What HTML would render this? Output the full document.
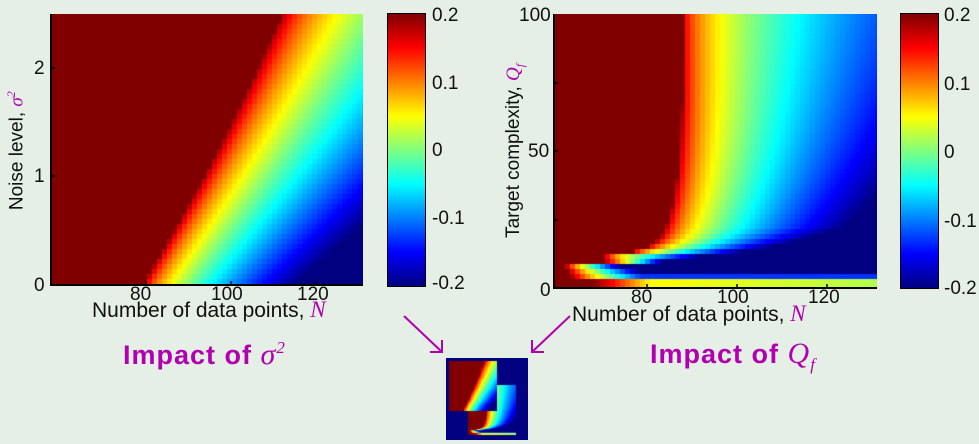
<!DOCTYPE html>
<html><head><meta charset="utf-8"><style>
html,body{margin:0;padding:0;background:#e5efe5;width:979px;height:444px;overflow:hidden;position:relative;font-family:"Liberation Sans",sans-serif;}
canvas{position:absolute;}
.t{position:absolute;font-size:19px;color:#111;line-height:1;white-space:nowrap;}
.m{color:#b000b0;font-style:italic;font-family:"Liberation Serif",serif;}
.ttl{position:absolute;font-size:27px;font-weight:bold;letter-spacing:1px;color:#b000b0;white-space:nowrap;line-height:1;}
</style></head><body>
<canvas id="c1" width="311" height="271" style="left:52px;top:14px"></canvas>
<canvas id="c2" width="322" height="275" style="left:555px;top:14px"></canvas>
<canvas id="cb1" width="37" height="272" style="left:388px;top:14px"></canvas>
<canvas id="cb2" width="37" height="274" style="left:901px;top:14px"></canvas>
<canvas id="th" width="82" height="82" style="left:446px;top:358px"></canvas>
<svg width="979" height="444" style="position:absolute;left:0;top:0">
<line x1="51" y1="14" x2="51" y2="286" stroke="#000" stroke-width="2"/>
<line x1="50" y1="285" x2="363" y2="285" stroke="#000" stroke-width="2"/>
<line x1="554" y1="14" x2="554" y2="289" stroke="#000" stroke-width="2"/>
<line x1="553" y1="288" x2="877" y2="288" stroke="#000" stroke-width="2"/>
<g stroke="#000" stroke-width="1.5">
<line x1="51" y1="68" x2="55" y2="68"/><line x1="51" y1="176" x2="55" y2="176"/>
<line x1="146" y1="285" x2="146" y2="281"/><line x1="231" y1="285" x2="231" y2="281"/><line x1="316" y1="285" x2="316" y2="281"/>
<line x1="554" y1="151" x2="558" y2="151"/><line x1="554" y1="83" x2="558" y2="83"/><line x1="554" y1="220" x2="558" y2="220"/>
<line x1="647" y1="288" x2="647" y2="284"/><line x1="737" y1="288" x2="737" y2="284"/><line x1="827" y1="288" x2="827" y2="284"/>
</g>
<rect x="387.5" y="13.5" width="38" height="273" fill="none" stroke="#000"/>
<rect x="900.5" y="13.5" width="38" height="275" fill="none" stroke="#000"/>
<g stroke="#b000b0" stroke-width="2" fill="none">
<line x1="404" y1="316" x2="442" y2="352"/><polyline points="430,352 442,352 442,340"/>
<line x1="570" y1="316" x2="532" y2="352"/><polyline points="532,340 532,352 544,352"/>
</g>
</svg>
<div class="t" style="left:34px;top:59px">2</div>
<div class="t" style="left:34px;top:167px">1</div>
<div class="t" style="left:34px;top:276px">0</div>
<div class="t" style="left:130px;top:285px">80</div>
<div class="t" style="left:211px;top:285px">100</div>
<div class="t" style="left:297px;top:285px">120</div>
<div class="t" style="left:92px;top:298px;font-size:21px">Number of data points, <span class="m" style="font-size:23px">N</span></div>
<div class="t" style="left:-64px;top:140px;transform:rotate(-90deg);transform-origin:center;width:160px;text-align:center">Noise level, <span class="m">σ<sup style="font-size:12px">2</sup></span></div>
<div class="t" style="left:519px;top:6px">100</div>
<div class="t" style="left:528px;top:142px">50</div>
<div class="t" style="left:540px;top:281px">0</div>
<div class="t" style="left:631px;top:288px">80</div>
<div class="t" style="left:717px;top:288px">100</div>
<div class="t" style="left:808px;top:288px">120</div>
<div class="t" style="left:572px;top:302px;font-size:21px">Number of data points, <span class="m" style="font-size:23px">N</span></div>
<div class="t" style="left:420px;top:140px;transform:rotate(-90deg);transform-origin:center;width:190px;text-align:center">Target complexity, <span class="m">Q<sub style="font-size:12px">f</sub></span></div>
<div class="t" style="left:432px;top:6px">0.2</div><div class="t" style="left:432px;top:74px">0.1</div><div class="t" style="left:432px;top:141px">0</div><div class="t" style="left:432px;top:209px">-0.1</div><div class="t" style="left:432px;top:274px">-0.2</div>
<div class="t" style="left:944px;top:6px">0.2</div><div class="t" style="left:944px;top:75px">0.1</div><div class="t" style="left:944px;top:143px">0</div><div class="t" style="left:944px;top:212px">-0.1</div><div class="t" style="left:944px;top:279px">-0.2</div>
<div class="ttl" style="left:123px;top:339px">Impact of <span class="m" style="font-size:30px;font-weight:normal">σ<sup style="font-size:17px">2</sup></span></div>
<div class="ttl" style="left:650px;top:339px">Impact of <span class="m" style="font-size:30px;font-weight:normal">Q<sub style="font-size:17px">f</sub></span></div>
<script>
function jet(v){var t=(v+0.2)/0.4;t=Math.max(0,Math.min(1,t));
function c(x){return Math.max(0,Math.min(1,1.5-Math.abs(x)));}
return [Math.round(255*c(4*t-3)),Math.round(255*c(4*t-2)),Math.round(255*c(4*t-1))];}
function fill(id,f,cell){var cv=document.getElementById(id),g=cv.getContext('2d'),W=cv.width,H=cv.height;
for(var y=0;y<H;y+=cell)for(var x=0;x<W;x+=cell){var c=jet(f(x+cell/2,y+cell/2,W,H));g.fillStyle='rgb('+c+')';g.fillRect(x,y,cell,cell);}}
function f1(x,y,W,H){var fy=(H-y)/H;var xb=91+fy*140+Math.sin(fy*Math.PI)*6;var w=152+fy*150;var d=(x-xb)/w;if(d<0)return 0.2;return 0.2-0.4*Math.min(1,Math.pow(d,0.57));}
function f2(x,y,W,H){
 if(y<245){var xb=128-16*Math.pow(y/213,4)-75*Math.exp(-(245-y)/7);
  var s=Math.min(1,y/213);var w=330-150*s,p=0.45+0.1*s;
  if(y>213){var q=(y-213)/32;w=180-90*q;p=0.55+0.1*q;}
  var d=(x-xb)/w;if(d<0)return 0.2;return 0.2-0.4*Math.min(1,Math.pow(d,p));}
 if(y<249){var d=(x-48)/60;if(d<0)return 0.2;return 0.2-0.4*Math.min(1,d);}
 if(y<266){var s=(y-249)/17;var xb=8+10*s,w=45+55*s;var d=(x-xb)/w;var v=d<0?0.2:0.2-0.4*Math.min(1,Math.pow(d,0.8));
  if(y>262)v=Math.max(v,-0.13);return v;}
 if(x<38)return 0.2;if(x<95)return 0.2-0.15*(x-38)/57;return 0.05-0.03*(x-95)/227;}
fill('c1',f1,5);fill('c2',f2,5);
fill('cb1',function(x,y,W,H){return 0.2-0.4*y/H;},1);
fill('cb2',function(x,y,W,H){return 0.2-0.4*y/H;},1);
var t=document.getElementById('th').getContext('2d');t.fillStyle='#000080';t.fillRect(0,0,82,82);
var a=document.getElementById('c1'),b=document.getElementById('c2');
t.drawImage(b,22,27,48,50);t.drawImage(a,3,3,48,50);
</script>
</body></html>
